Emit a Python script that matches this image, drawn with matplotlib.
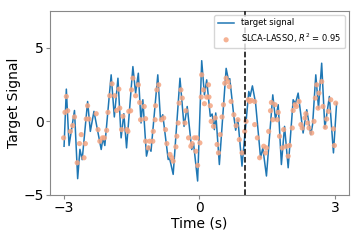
import matplotlib
matplotlib.use("Agg")
import matplotlib.pyplot as plt

# target signal keypoints (time s, value)
sig_t = [-2.99, -2.94, -2.88, -2.76, -2.69, -2.64, -2.59, -2.47, -2.41, -2.33,
         -2.17, -2.13, -2.09, -1.95, -1.88, -1.80, -1.73, -1.67, -1.61, -1.47,
         -1.41, -1.35, -1.29, -1.25, -1.17, -1.12, -1.07, -0.92, -0.86, -0.81,
         -0.69, -0.66, -0.58, -0.43, -0.34, -0.27, -0.17, -0.13, -0.04, 0.05,
         0.11, 0.16, 0.24, 0.28, 0.33, 0.36, 0.44, 0.59, 0.64, 0.67,
         0.76, 0.80, 0.85, 0.94, 1.09, 1.12, 1.17, 1.24, 1.35, 1.40,
         1.48, 1.62, 1.68, 1.74, 1.81, 1.88, 1.96, 2.07, 2.12, 2.18,
         2.29, 2.37, 2.46, 2.50, 2.57, 2.63, 2.70, 2.77, 2.87, 2.96, 3.03]
sig_v = [-1.69, 2.19, -1.64, 0.74, -3.89, -1.90, -2.60, 1.35, -0.68, 0.68,
         -1.91, -1.12, -1.64, 3.16, 0.30, 2.93, -1.12, 0.52, -1.80, 3.72,
         1.92, 3.27, -0.11, 1.47, -2.36, -1.69, -2.03, 3.16, 0.11, 0.45,
         -2.59, -2.50, -3.60, 2.93, -0.34, 1.01, -1.91, -1.50, -4.05, 4.12,
         1.80, 2.82, 0.34, 0.50, -0.56, 0.57, -2.93, 3.60, 2.82, 2.90,
         0.34, -0.60, 0.11, -3.04, 2.03, 1.70, 2.41, 1.24, -2.47, -1.80,
         -3.71, 1.80, 0.11, 1.13, -2.93, -0.34, -3.15, 1.47, 1.20, 1.92,
         -0.79, 0.79, -0.90, -0.20, 3.16, 0.90, 3.95, -0.45, 1.69, -2.14, 1.24]

# SLCA-LASSO predictions (time s, value)
pred_t = [-3.00, -2.97, -2.94, -2.91, -2.85, -2.80, -2.76, -2.70, -2.65, -2.61,
          -2.55, -2.52, -2.50, -2.47, -2.44, -2.28, -2.24, -2.20, -2.14, -2.10,
          -2.05, -2.02, -1.98, -1.93, -1.87, -1.83, -1.78, -1.76, -1.72, -1.69,
          -1.60, -1.56, -1.58, -1.52, -1.50, -1.47, -1.41, -1.35, -1.32, -1.30,
          -1.22, -1.19, -1.19, -1.13, -1.10, -1.03, -1.02, -0.98, -0.97, -0.94,
          -0.90, -0.84, -0.79, -0.75, -0.72, -0.65, -0.61, -0.58, -0.52, -0.50,
          -0.47, -0.45, -0.41, -0.38, -0.32, -0.30, -0.24, -0.19, -0.16, -0.11,
          -0.08, -0.06, -0.04, 0.01, 0.04, 0.05, 0.09, 0.11, 0.16, 0.20,
          0.21, 0.24, 0.26, 0.31, 0.35, 0.39, 0.42, 0.46, 0.50, 0.53,
          0.56, 0.59, 0.63, 0.66, 0.70, 0.76, 0.81, 0.85, 0.88, 0.94,
          1.00, 1.03, 1.08, 1.11, 1.15, 1.22, 1.22, 1.28, 1.33, 1.42,
          1.46, 1.48, 1.53, 1.57, 1.59, 1.62, 1.67, 1.72, 1.74, 1.77,
          1.83, 1.86, 1.92, 1.96, 1.99, 2.05, 2.07, 2.11, 2.14, 2.20,
          2.24, 2.27, 2.33, 2.35, 2.39, 2.42, 2.48, 2.53, 2.56, 2.59,
          2.62, 2.64, 2.70, 2.73, 2.78, 2.81, 2.85, 2.90, 2.96, 2.98, 3.01]
pred_v = [-1.12, 0.61, 1.69, 0.72, -0.68, -0.29, 0.30, -2.81, -1.51, -0.90,
          -2.47, -1.51, 0.16, 1.06, 0.16, 0.52, -0.56, -1.35, -1.12, -1.12,
          -0.61, 0.61, 1.74, 2.55, 1.74, 0.74, 2.19, 0.90, -0.56, 0.34,
          -0.56, 0.68, -0.68, 0.72, 2.14, 2.93, 1.74, 2.48, 1.28, 0.11,
          1.01, 0.18, -1.35, -1.80, -1.35, -1.35, -0.68, 0.11, 1.06, 2.14,
          2.48, 0.11, 0.23, -0.56, -1.51, -2.25, -2.47, -2.70, -1.73, -1.01,
          -0.11, 1.24, 2.14, 1.58, -0.11, 0.72, -1.12, -1.69, -1.51, -1.12,
          -2.03, -1.12, -2.99, -1.46, 1.65, 3.16, 2.14, 1.20, 1.65, 2.48,
          1.65, 1.06, 0.00, -0.34, 0.23, -1.57, -2.14, -0.90, 0.30, 1.13,
          2.59, 2.93, 2.70, 2.36, 1.35, 0.45, -0.29, 0.11, -1.24, -2.14,
          -0.68, 0.00, 1.47, 1.35, 1.42, 1.35, -0.22, -1.12, -2.47, -1.69,
          -2.14, -1.80, -0.68, 0.72, 1.28, 0.11, 1.13, 0.11, 0.61, -1.01,
          -1.80, -0.56, -1.69, -2.36, -1.64, -0.45, 0.74, 1.13, 1.01, 1.35,
          -0.22, -0.45, 0.23, 0.52, -0.11, -0.45, -0.79, 0.00, 1.58, 2.48,
          0.90, 1.92, 2.70, 1.01, -0.40, 0.16, 0.68, 1.47, -0.51, -1.64, 1.24]

split_time = 1.0

fig = plt.figure(figsize=(3.6, 2.4), dpi=100)
ax = fig.add_axes([0.139, 0.1875, 0.830, 0.767])

ax.plot(sig_t, sig_v, color="#1f77b4", lw=1.1, label="target signal", zorder=2)
ax.scatter(pred_t, pred_v, s=14, color="#f4a582", alpha=0.85, edgecolors="none",
           label="SLCA-LASSO, $R^2$ = 0.95", zorder=3)
ax.axvline(split_time, color="black", ls="--", lw=1.1, zorder=4)

ax.set_xlim(-3.3, 3.3)
ax.set_ylim(-5, 7.5)
ax.set_xticks([-3, 0, 3])
ax.set_yticks([-5, 0, 5])
ax.set_xlabel("Time (s)", fontsize=10, labelpad=1)
ax.set_ylabel("Target Signal", fontsize=10, labelpad=2)
ax.tick_params(labelsize=10, length=3, color="#888888", pad=1.5)
for sp in ax.spines.values():
    sp.set_color("#888888")

ax.legend(loc="upper right", fontsize=6, framealpha=0.8)

fig.savefig("out.png", dpi=100)
